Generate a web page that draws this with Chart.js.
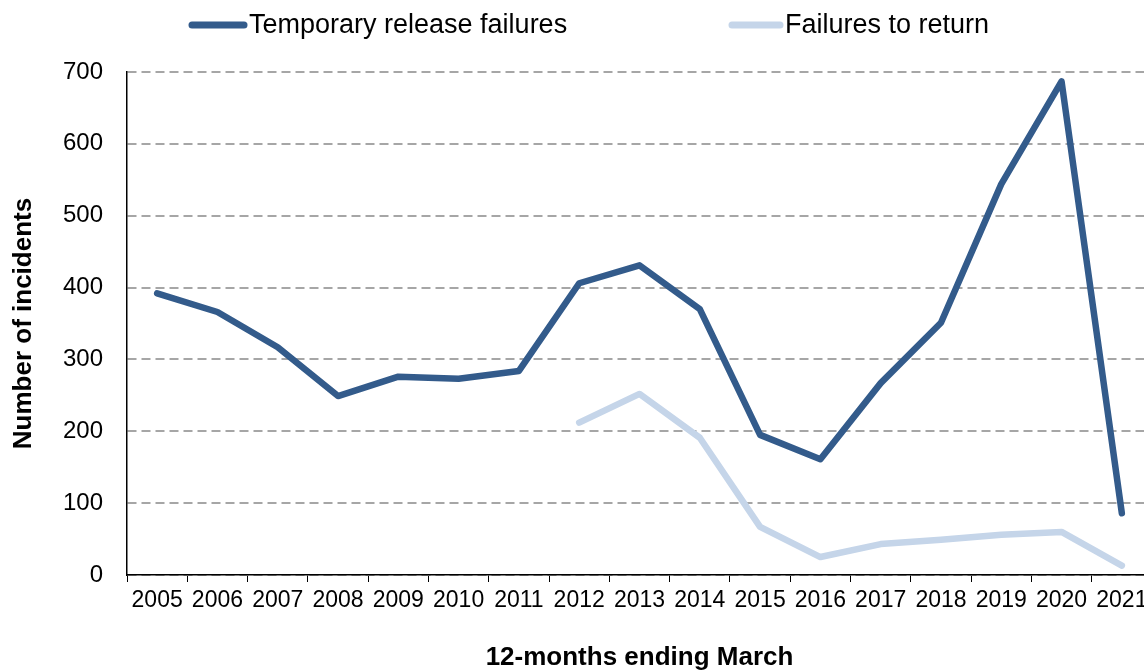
<!DOCTYPE html>
<html>
<head>
<meta charset="utf-8">
<script src="https://cdn.jsdelivr.net/npm/chart.js@4/dist/chart.umd.min.js"></script>
<style>
  html, body { margin: 0; padding: 0; background: #fff; overflow: hidden; }
  #wrap { width: 1160px; height: 670px; }
</style>
</head>
<body>
<div id="wrap"><canvas id="myChart" width="1160" height="670"></canvas></div>
<script>
// years (12 months ending March)
var years = ["2005", "2006", "2007", "2008", "2009", "2010", "2011", "2012", "2013",
             "2014", "2015", "2016", "2017", "2018", "2019", "2020", "2021"];

var tempReleaseFailures = [392, 366, 317, 249, 276, 273, 284, 406, 431, 370, 195, 161, 267, 351, 544, 687, 86];

// no data before 2012
var failuresToReturn = [null, null, null, null, null, null, null, 212, 252, 191, 67, 25, 43, 49, 56, 60, 13];

var yTicks = [0, 100, 200, 300, 400, 500, 600, 700];

var darkBlue = "#335b8b";
var lightBlue = "#c5d5e9";
var font = "'Liberation Sans', Arial, sans-serif";

// legend drawn by hand: the built-in one can't do a wide gap between items
// without also pushing everything down
var legendSpots = [{ x: 192, w: 52 }, { x: 732, w: 48 }];
var topLegend = {
  id: "topLegend",
  afterDraw: function(chart) {
    var c = chart.ctx;
    c.save();
    c.font = "27px " + font;
    c.textBaseline = "middle";
    c.fillStyle = "#000";
    chart.data.datasets.forEach(function(ds, i) {
      var s = legendSpots[i];
      c.beginPath();
      c.lineWidth = 7;
      c.lineCap = "round";
      c.strokeStyle = ds.borderColor;
      c.moveTo(s.x, 25);
      c.lineTo(s.x + s.w, 25);
      c.stroke();
      c.fillText(ds.label, s.x + s.w + 5, 26);
    });
    c.restore();
  }
};

var ctx = document.getElementById("myChart").getContext("2d");

var myChart = new Chart(ctx, {
  type: "line",
  data: {
    labels: years,
    datasets: [{
      label: "Temporary release failures",
      data: tempReleaseFailures,
      borderColor: darkBlue,
      backgroundColor: darkBlue,
      borderWidth: 6.5,
      borderCapStyle: "round",
      borderJoinStyle: "round",
      pointRadius: 0,
      tension: 0
    }, {
      label: "Failures to return",
      data: failuresToReturn,
      borderColor: lightBlue,
      backgroundColor: lightBlue,
      borderWidth: 6.5,
      borderCapStyle: "round",
      borderJoinStyle: "round",
      pointRadius: 0,
      tension: 0
    }]
  },
  plugins: [topLegend],
  options: {
    responsive: false,
    animation: false,
    layout: { padding: { left: 0, right: 8, top: 72, bottom: 0 } },
    plugins: {
      tooltip: { enabled: false },
      legend: { display: false }
    },
    scales: {
      x: {
        offset: true,
        grid: {
          offset: true,
          drawOnChartArea: false,
          drawTicks: true,
          tickLength: 7,
          color: "#000"
        },
        border: { color: "#000", width: 1.5 },
        ticks: {
          color: "#000",
          padding: 5,
          maxRotation: 0,
          autoSkip: false,
          font: { family: font, size: 23 }
        },
        title: {
          display: true,
          text: "12-months ending March",
          color: "#000",
          padding: { top: 22, bottom: 0 },
          font: { family: font, size: 26, weight: "bold", lineHeight: 0.95 }
        },
        afterFit: function(scale) { scale.height = 95; }
      },
      y: {
        min: 0,
        max: 700,
        afterBuildTicks: function(scale) {
          scale.ticks = yTicks.map(function(v) { return { value: v }; });
        },
        grid: {
          drawTicks: false,
          color: "#a6a6a6",
          lineWidth: 2
        },
        border: { color: "#000", width: 1.5, dash: [9, 5] },
        ticks: {
          color: "#000",
          padding: 24,
          font: { family: font, size: 24 }
        },
        title: {
          display: true,
          text: "Number of incidents",
          color: "#000",
          padding: { top: 8, bottom: 0 },
          font: { family: font, size: 26, weight: "bold" }
        },
        afterFit: function(scale) { scale.width = 127; }
      }
    }
  }
});
</script>
</body>
</html>
